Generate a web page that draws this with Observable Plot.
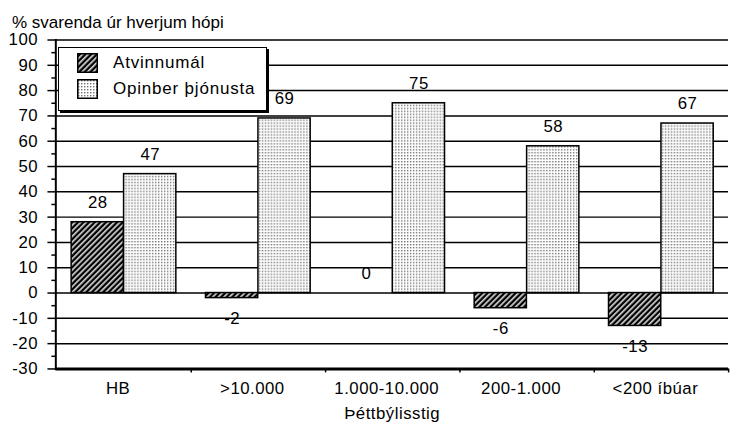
<!DOCTYPE html>
<html><head><meta charset="utf-8">
<script src="https://cdn.jsdelivr.net/npm/d3@7"></script>
<script src="https://cdn.jsdelivr.net/npm/@observablehq/plot@0.6"></script>
<style>
body{margin:0;background:#fff;overflow:hidden}
#wrap{position:relative;width:731px;height:427px;overflow:hidden;font-family:"Liberation Sans",Arial,sans-serif;color:#000}
#chart{position:absolute;left:0;top:0}
#title{position:absolute;left:12px;top:13px;font-size:17px;letter-spacing:0px;white-space:nowrap}
#legend{position:absolute;left:58px;top:47px;width:207px;height:62px;background:#fff;border:1px solid #000;box-shadow:2px 2px 0 #000}
.item{position:absolute;left:18px;height:20px;display:flex;align-items:center;font-size:17px;letter-spacing:0.8px;white-space:nowrap}
.item svg{margin-right:15px}
</style></head>
<body><div id="wrap"><div id="chart"></div><div id="title"></div><div id="legend"></div></div>
<script>
const categories = ["HB", ">10.000", "1.000-10.000", "200-1.000", "<200 íbúar"];
const seriesNames = ["Atvinnumál", "Opinber þjónusta"];
const atvinnumal = [28, -2, 0, -6, -13];
const opinber = [47, 69, 75, 58, 67];
const yTicks = [-30, -20, -10, 0, 10, 20, 30, 40, 50, 60, 70, 80, 90, 100];
const yMinorTicks = [-25, -15, -5, 5, 15, 25, 35, 45, 55, 65, 75, 85, 95];
const titleText = "% svarenda úr hverjum hópi";
const xTitle = "Þéttbýlisstig";

const rows = categories.flatMap((c, i) => [
  {category: c, series: seriesNames[0], value: atvinnumal[i]},
  {category: c, series: seriesNames[1], value: opinber[i]}
]);

const W = 740, H = 427, mL = 56, mR = 3, mT = 40, mB = 54;
const step = (W - mL - mR) / categories.length;
const half = step / 2;
const outer = 15;
const barCenter = (half - outer) / 2 + outer;
const off = half - barCenter;
const fills = {[seriesNames[0]]: "url(#hatch)", [seriesNames[1]]: "url(#dots)"};

const marks = [
  Plot.gridY(yTicks.filter(d => d > -30), {stroke: "#000", strokeOpacity: 1, strokeWidth: 1.5}),
  Plot.barY(rows.filter(d => d.series === seriesNames[0] && d.value !== 0), {x: "category", y: "value", fill: fills[seriesNames[0]], stroke: "#000", strokeWidth: 1.5, insetLeft: outer, insetRight: half}),
  Plot.barY(rows.filter(d => d.series === seriesNames[1]), {x: "category", y: "value", fill: fills[seriesNames[1]], stroke: "#000", strokeWidth: 1.5, insetLeft: half, insetRight: outer}),
  Plot.ruleY([-30], {stroke: "#000", strokeWidth: 3}),
  Plot.frame({anchor: "left", stroke: "#000", strokeWidth: 2}),
  Plot.axisY({ticks: yTicks, tickSize: 8, tickPadding: 10, strokeWidth: 1.5, label: null, tickFormat: d => String(d)}),
  Plot.axisY({ticks: yMinorTicks, tickSize: 4, text: null, strokeWidth: 1.5, label: null}),
  Plot.axisX({tickSize: 0, tickPadding: 13, dx: -6, label: null}),
  Plot.axisX({tickSize: 4, text: null, dx: half, strokeWidth: 1.5, label: null}),
  Plot.text([xTitle], {frameAnchor: "bottom", dy: 51, text: d => d}),
  ...seriesNames.flatMap((s, k) => [
    Plot.text(rows.filter(d => d.series === s && d.value >= 0), {x: "category", y: "value", text: d => String(d.value), dx: k === 0 ? -off : off, dy: -20}),
    Plot.text(rows.filter(d => d.series === s && d.value < 0), {x: "category", y: "value", text: d => String(d.value), dx: k === 0 ? -off : off, dy: 21})
  ])
];

const chart = Plot.plot({
  width: W, height: H,
  marginLeft: mL, marginRight: mR, marginTop: mT, marginBottom: mB,
  x: {domain: categories, padding: 0, label: null},
  y: {domain: [-30, 100], label: null},
  style: {fontFamily: '"Liberation Sans",Arial,sans-serif', fontSize: "17px", letterSpacing: "0.5px", color: "#000", background: "#fff", overflow: "visible"},
  marks
});

d3.select(chart).insert("defs", ":first-child").html(`
  <pattern id="hatch" patternUnits="userSpaceOnUse" width="4" height="4" patternTransform="rotate(45)">
    <rect width="4" height="4" fill="#000"/>
    <rect x="0" y="0" width="1.7" height="4" fill="#d4d4d4"/>
  </pattern>
  <pattern id="dots" patternUnits="userSpaceOnUse" width="3" height="3">
    <rect width="3" height="3" fill="#fff"/>
    <rect x="1" y="1" width="1.4" height="1.4" fill="#707070"/>
  </pattern>`);

document.getElementById("chart").appendChild(chart);
document.getElementById("title").textContent = titleText;

const legend = document.getElementById("legend");
seriesNames.forEach((s, i) => {
  const item = document.createElement("div");
  item.className = "item";
  item.style.top = (5 + i * 26) + "px";
  item.innerHTML = `<svg width="21" height="20"><rect x="0.75" y="0.75" width="19.5" height="18.5" fill="${fills[s]}" stroke="#000" stroke-width="1.5"/></svg><span></span>`;
  item.querySelector("span").textContent = s;
  legend.appendChild(item);
});
</script>
</body></html>
